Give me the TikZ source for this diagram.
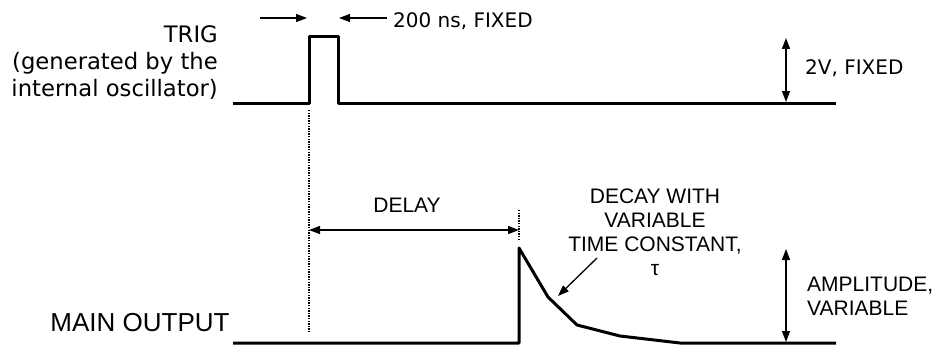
\documentclass[tikz,border=0pt]{standalone}
\usepackage{fontspec}
\usetikzlibrary{arrows.meta}
\newfontfamily\dvfont{DejaVu Sans}
\newfontfamily\lsfont{Liberation Sans}
\begin{document}
\begin{tikzpicture}[x=1pt,y=-1pt,
  signal/.style={line width=3pt,line join=round},
  dim/.style={line width=1.3pt,-{Triangle[length=11pt,width=8pt]}},
  dimboth/.style={line width=1.3pt,{Triangle[length=11pt,width=8pt]}-{Triangle[length=11pt,width=8pt]}},
  guide/.style={line width=1.3pt,dash pattern=on 1.3pt off 1.3pt},
  toplabel/.style={inner sep=0pt,font=\dvfont\fontsize{20}{24}\selectfont},
  lowlabel/.style={inner sep=0pt,font=\lsfont\fontsize{21}{24}\selectfont}]
\useasboundingbox (0,0) rectangle (937,345);
% top signal
\coordinate (t0) at (233,103);
\coordinate (t1) at (309,103);
\coordinate (t2) at (309,37);
\coordinate (t3) at (338,37);
\coordinate (t4) at (338,103);
\coordinate (t5) at (836,103);
\draw[signal] (t0) -- (t1) -- (t2) -- (t3) -- (t4) -- (t5);
% main output signal
\coordinate (m0) at (233,343);
\coordinate (m1) at (519,343);
\coordinate (m2) at (519,248);
\coordinate (m3) at (548,297);
\coordinate (m4) at (577,325);
\coordinate (m5) at (620,336);
\coordinate (m6) at (680,343);
\coordinate (m7) at (836,343);
\draw[signal] (m0) -- (m1) -- (m2) -- (m3) -- (m4) -- (m5) -- (m6) -- (m7);
% width arrows
\coordinate (wa0) at (260,18);
\coordinate (wa1) at (307,18);
\coordinate (wb0) at (387,18);
\coordinate (wb1) at (339,18);
\draw[dim] (wa0) -- (wa1);
\draw[dim] (wb0) -- (wb1);
\node[toplabel,anchor=west] (wlab) at (393,21) {200 ns, FIXED};
% 2V arrow
\coordinate (v0) at (786,38);
\coordinate (v1) at (786,102);
\draw[dimboth] (v0) -- (v1);
\node[toplabel,anchor=west] (vlab) at (805,68) {2V, FIXED};
% guides
\coordinate (g0) at (309,110);
\coordinate (g1) at (309,333);
\draw[guide] (g0) -- (g1);
\coordinate (h0) at (519,210);
\coordinate (h1) at (519,240);
\draw[guide] (h0) -- (h1);
% delay arrow
\coordinate (d0) at (309,230);
\coordinate (d1) at (519,230);
\draw[dimboth] (d0) -- (d1);
\node[lowlabel] (dlab) at (407,205) {DELAY};
% decay label and arrow
\node[lowlabel,align=center,anchor=north] (declab) at (655,189) {DECAY WITH\\VARIABLE\\TIME CONSTANT,\\τ};
\coordinate (k0) at (597,258);
\coordinate (k1) at (558,296);
\draw[dim] (k0) -- (k1);
% amplitude
\coordinate (a0) at (786,249);
\coordinate (a1) at (786,342);
\draw[dimboth] (a0) -- (a1);
\node[lowlabel,align=left,anchor=west] (alab) at (807,296) {AMPLITUDE,\\VARIABLE};
% left labels
\node[inner sep=0pt,align=right,anchor=east,font=\dvfont\fontsize{22.7}{27}\selectfont] (trig) at (218,63) {TRIG\\(generated by the\\internal oscillator)};
\node[inner sep=0pt,font=\lsfont\fontsize{26}{30}\selectfont] (main) at (140,323) {MAIN OUTPUT};
\end{tikzpicture}
\end{document}
